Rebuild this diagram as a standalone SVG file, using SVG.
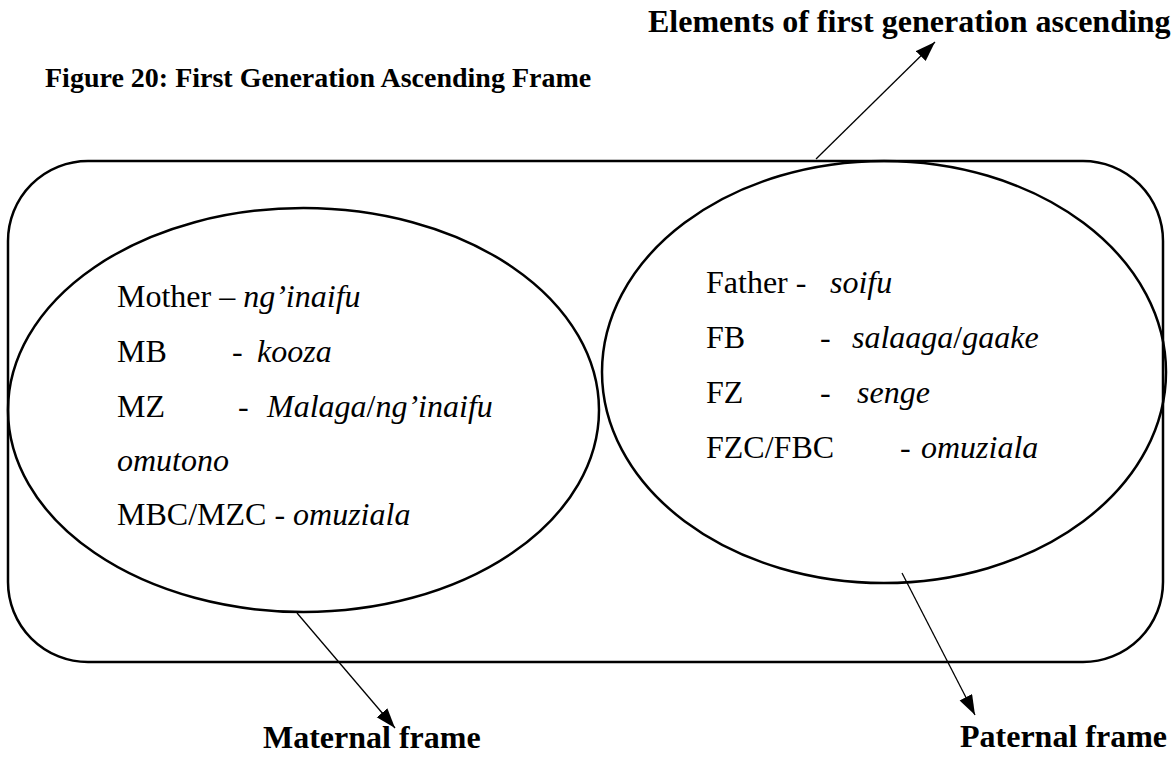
<svg xmlns="http://www.w3.org/2000/svg" width="1174" height="757" viewBox="0 0 1174 757">
  <defs>
    <marker id="arrow" markerUnits="userSpaceOnUse" markerWidth="22" markerHeight="16" refX="20" refY="7" orient="auto">
      <path d="M0,0 L20,7 L0,14 z" fill="#000"/>
    </marker>
    <style>
      .shape { fill: none; stroke: #000; stroke-width: 2.5; }
      .conn { fill: none; stroke: #000; stroke-width: 1.3; marker-end: url(#arrow); }
      .head { font-family: "Liberation Serif", "Times New Roman", serif; font-weight: bold; fill: #000; }
      .body { font-family: "Liberation Serif", "Times New Roman", serif; font-size: 32px; fill: #000; }
      .it { font-style: italic; }
    </style>
  </defs>
  <rect width="1174" height="757" fill="#fff"/>

  <!-- caption and outer label -->
  <text class="head" x="45" y="87" font-size="28">Figure 20: First Generation Ascending Frame</text>
  <text class="head" x="648" y="32" font-size="32">Elements of first generation ascending</text>

  <!-- outer frame -->
  <g id="frame">
    <rect class="shape" x="8" y="161" width="1155" height="501" rx="80" ry="80"/>
  </g>

  <!-- maternal circle -->
  <g id="maternal">
    <ellipse class="shape" cx="303.5" cy="410" rx="295.5" ry="202"/>
    <text class="body" x="117" y="307">Mother – <tspan class="it">ng’inaifu</tspan></text>
    <text class="body" y="362"><tspan x="117">MB</tspan><tspan x="232">-</tspan><tspan x="257" class="it">kooza</tspan></text>
    <text class="body" y="417"><tspan x="117">MZ</tspan><tspan x="238">-</tspan><tspan x="267" class="it">Malaga</tspan>/<tspan class="it">ng’inaifu</tspan></text>
    <text class="body it" x="117" y="471">omutono</text>
    <text class="body" x="117" y="525">MBC/MZC - <tspan class="it">omuziala</tspan></text>
  </g>

  <!-- paternal circle -->
  <g id="paternal">
    <ellipse class="shape" cx="884" cy="372" rx="282" ry="211"/>
    <text class="body" y="293"><tspan x="706">Father -</tspan><tspan x="830" class="it">soifu</tspan></text>
    <text class="body" y="348"><tspan x="706">FB</tspan><tspan x="820">-</tspan><tspan x="852" class="it">salaaga</tspan>/<tspan class="it">gaake</tspan></text>
    <text class="body" y="403"><tspan x="706">FZ</tspan><tspan x="820">-</tspan><tspan x="857" class="it">senge</tspan></text>
    <text class="body" y="458"><tspan x="706">FZC/FBC</tspan><tspan x="900">-</tspan><tspan x="921" class="it">omuziala</tspan></text>
  </g>

  <!-- frame labels -->
  <g id="label-maternal">
    <text class="head" x="263" y="748" font-size="32">Maternal frame</text>
  </g>
  <g id="label-paternal">
    <text class="head" x="960" y="747" font-size="32">Paternal frame</text>
  </g>

  <!-- connectors -->
  <g id="connectors">
    <line class="conn" x1="816" y1="159" x2="935" y2="42"/>
    <line class="conn" x1="297" y1="613" x2="395" y2="728"/>
    <line class="conn" x1="902" y1="573" x2="975" y2="715"/>
  </g>
</svg>
